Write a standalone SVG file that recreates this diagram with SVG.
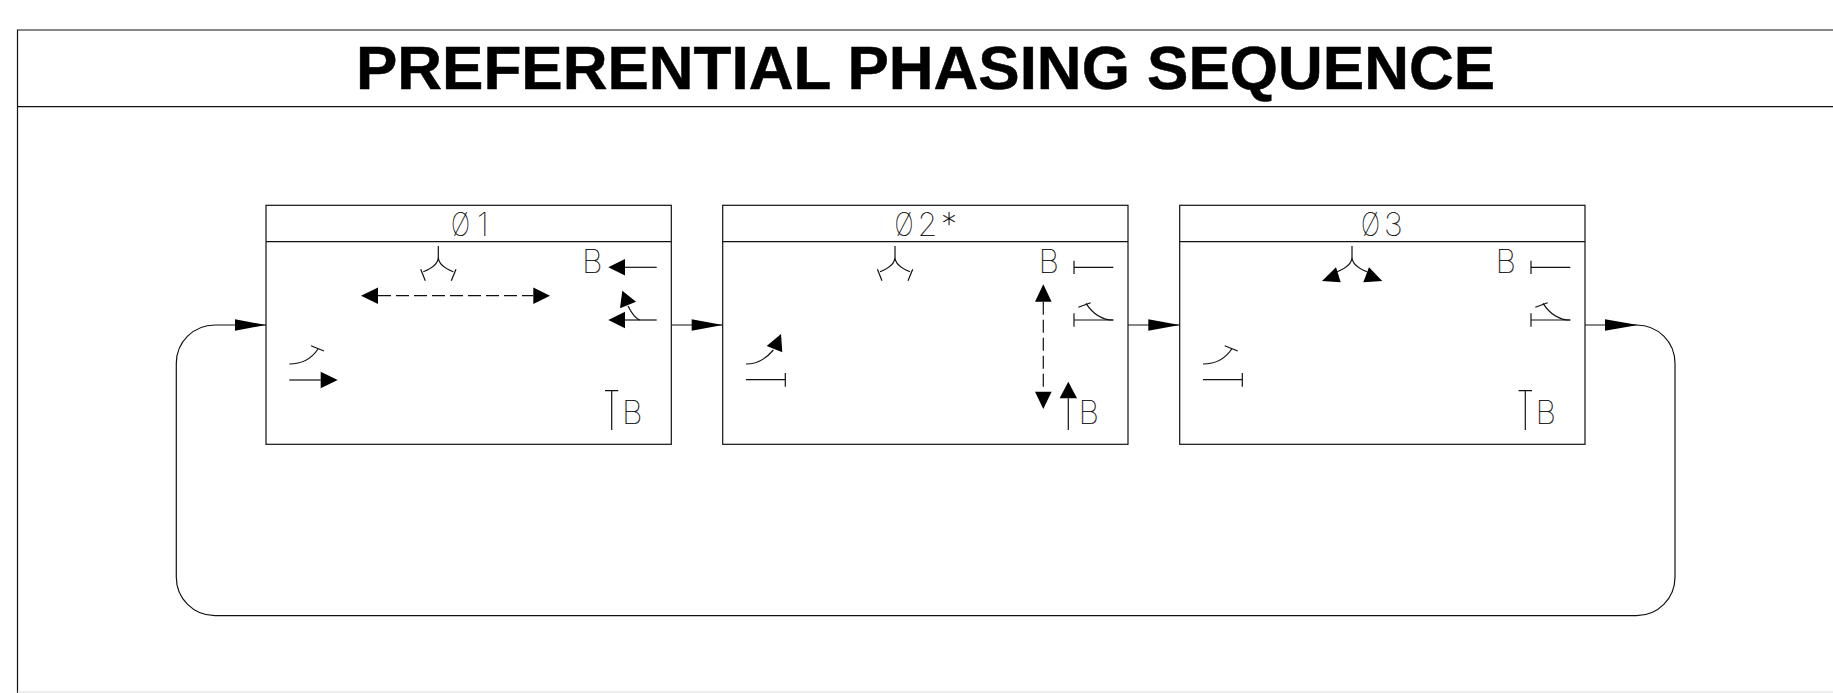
<svg xmlns="http://www.w3.org/2000/svg" xmlns:xlink="http://www.w3.org/1999/xlink" width="1833" height="693" viewBox="0 0 1833 693">
<style>
.l{fill:none;stroke:#111;stroke-width:1.2}
.b{fill:#000;stroke:none}
.d{stroke-dasharray:13 5}
.t{font-family:"Inter","Liberation Sans",sans-serif;font-weight:100;fill:#000;stroke:#000;stroke-width:0.2}
.h{font-size:32px}
.p{font-size:32px}
.title{font-family:"Liberation Sans",Arial,sans-serif;font-weight:700;font-size:62px;fill:#000;stroke:#000;stroke-width:0.5;text-anchor:middle}
</style>
<defs>
<path id="yStem" class="l" d="M0 0V11C0 18 -8 23 -15 25.700M0 11C0 18 8 23 15 25.700"/>
<path id="yTicks" class="l" d="M-17.600 23.300L-13 34.700M17.700 23.300L13 34.700"/>
<path id="rTurn" class="l" d="M1113.300 320C1102 320 1093 314 1086 303.300M1078.300 307.300L1090.700 302.700"/>
<path id="lTurn" class="l" d="M289.300 364C304 364 312 358 318 349M311 345.700L324 351"/>
</defs>
<g id="frame">
<path class="l" d="M1833 30H17.500V693"/>
<path class="l" d="M17.500 106.700H1833"/>
<path d="M17.500 692H1833" fill="none" stroke="#ddd" stroke-width="1"/>
<text class="title" x="925.500" y="89.300">PREFERENTIAL PHASING SEQUENCE</text>
</g>
<g id="connectors">
<path class="l" d="M671.300 325H722.700"/>
<path class="b" d="M691.700 319.300L722.700 325L691.700 330.700Z"/>
<path class="l" d="M1128 325H1179.700"/>
<path class="b" d="M1148.300 319.300L1179.700 325L1148.300 330.700Z"/>
<path class="l" d="M1585 325H1636.500C1658 325 1675 342 1675 363.500V577C1675 598.500 1658 615.700 1636.500 615.700H215C193.500 615.700 176.300 598.500 176.300 577V363.500C176.300 342 193.500 325 215 325H266"/>
<path class="b" d="M1605 319.300L1638 325L1605 330.700Z"/>
<path class="b" d="M235 319.300L266 325L235 330.700Z"/>
</g>
<g id="phase1">
<rect class="l" x="266" y="205.300" width="405.300" height="239"/>
<path class="l" d="M266 241.700H671.300"/>
<text class="t p" y="236"><tspan x="451" textLength="19" lengthAdjust="spacingAndGlyphs">Ø</tspan><tspan x="477">1</tspan></text>
<use xlink:href="#yStem" href="#yStem" x="438.300" y="246"/>
<use xlink:href="#yTicks" href="#yTicks" x="438.300" y="246"/>
<path class="l d" d="M378 295.700H533.300"/>
<path class="b" d="M361 295.700L378 287.400V304Z"/>
<path class="b" d="M550 295.700L533.300 287.400V304Z"/>
<text class="t h" x="582" y="272.700">B</text>
<path class="l" d="M656.700 267.300H625"/>
<path class="b" d="M608.300 267.300L625 259V275.600Z"/>
<path class="l" d="M656.700 320H625"/>
<path class="b" d="M608.300 320L625 311.700V328.300Z"/>
<path class="l" d="M640 320C636 319 632 314 628 306"/>
<path class="b" d="M622.300 290.700L636 301.700L620 308.300Z"/>
<use xlink:href="#lTurn" href="#lTurn"/>
<path class="l" d="M289.300 380H320.700"/>
<path class="b" d="M337.700 380L320.700 371.700V388.300Z"/>
<path class="l" d="M611.700 390.700V430M605 390.700H618.300"/>
<text class="t h" x="622" y="424">B</text>
</g>
<g id="phase2">
<rect class="l" x="722.700" y="205.300" width="405.300" height="239"/>
<path class="l" d="M722.700 241.700H1128"/>
<text class="t p" y="236"><tspan x="894.500" textLength="19" lengthAdjust="spacingAndGlyphs">Ø</tspan><tspan x="917.500">2</tspan><tspan x="941">*</tspan></text>
<use xlink:href="#yStem" href="#yStem" x="895" y="246"/>
<use xlink:href="#yTicks" href="#yTicks" x="895" y="246"/>
<text class="t h" x="1038.500" y="272.700">B</text>
<path class="l" d="M1074 267.300H1113.300M1074 260.700V274"/>
<path class="l" d="M1074 320H1113.300M1074 313.300V326.700"/>
<use xlink:href="#rTurn" href="#rTurn"/>
<path class="l d" d="M1043.300 301.700V391.700"/>
<path class="b" d="M1043.300 284.300L1035 301.700H1051.600Z"/>
<path class="b" d="M1043.300 409L1035 391.700H1051.600Z"/>
<path class="l" d="M1068.300 430V398.300"/>
<path class="b" d="M1068.300 381.700L1059.600 398.300H1077Z"/>
<text class="t h" x="1078.500" y="424">B</text>
<path class="l" d="M746 364C758 364 766 359 773.300 350"/>
<path class="b" d="M781 334L766.700 346L782.300 352.300Z"/>
<path class="l" d="M746 379.700H785.300M785.300 373V386.700"/>
</g>
<g id="phase3">
<rect class="l" x="1179.700" y="205.300" width="405.300" height="239"/>
<path class="l" d="M1179.700 241.700H1585"/>
<text class="t p" y="236"><tspan x="1361" textLength="19" lengthAdjust="spacingAndGlyphs">Ø</tspan><tspan x="1384">3</tspan></text>
<use xlink:href="#yStem" href="#yStem" x="1352" y="246"/>
<path class="b" d="M1322 281L1336 267.300L1340.700 282.300Z"/>
<path class="b" d="M1382.300 281L1369 267.300L1363.300 282.300Z"/>
<text class="t h" x="1495.500" y="272.700">B</text>
<path class="l" d="M1531 267.300H1570.300M1531 260.700V274"/>
<path class="l" d="M1531 320H1570.300M1531 313.300V326.700"/>
<use xlink:href="#rTurn" href="#rTurn" x="457"/>
<use xlink:href="#lTurn" href="#lTurn" x="913.700"/>
<path class="l" d="M1203 379.700H1242.300M1242.300 373V386.700"/>
<path class="l" d="M1525.300 390.700V430M1518.600 390.700H1532"/>
<text class="t h" x="1535.500" y="424">B</text>
</g>
</svg>
